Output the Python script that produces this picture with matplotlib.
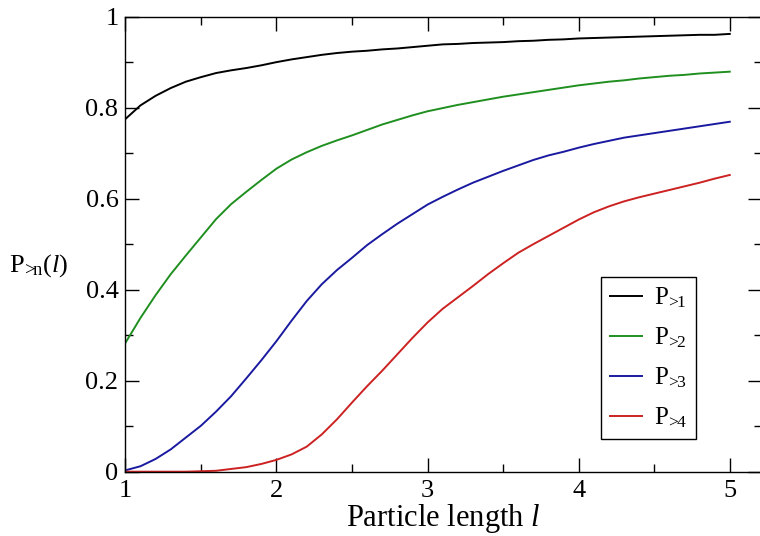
import matplotlib
matplotlib.use("Agg")
import matplotlib.pyplot as plt
from matplotlib.ticker import MultipleLocator

# particle length l
length = [1.0, 1.1, 1.2, 1.3, 1.4, 1.5, 1.6, 1.7, 1.8, 1.9,
          2.0, 2.1, 2.2, 2.3, 2.4, 2.5, 2.6, 2.7, 2.8, 2.9,
          3.0, 3.1, 3.2, 3.3, 3.4, 3.5, 3.6, 3.7, 3.8, 3.9,
          4.0, 4.1, 4.2, 4.3, 4.4, 4.5, 4.6, 4.7, 4.8, 4.9, 5.0]

p_gt1 = [0.775, 0.805, 0.826, 0.843, 0.857, 0.867, 0.876, 0.882, 0.887, 0.893,
         0.900, 0.906, 0.911, 0.916, 0.920, 0.923, 0.925, 0.928, 0.930, 0.933,
         0.936, 0.939, 0.940, 0.942, 0.943, 0.944, 0.946, 0.947, 0.949, 0.950,
         0.952, 0.953, 0.954, 0.955, 0.956, 0.957, 0.958, 0.959, 0.960, 0.960, 0.962]

p_gt2 = [0.283, 0.338, 0.388, 0.434, 0.475, 0.515, 0.555, 0.588, 0.615, 0.641,
         0.666, 0.686, 0.702, 0.716, 0.728, 0.739, 0.751, 0.763, 0.773, 0.783,
         0.792, 0.799, 0.806, 0.812, 0.818, 0.824, 0.829, 0.834, 0.839, 0.844,
         0.849, 0.853, 0.857, 0.860, 0.864, 0.867, 0.870, 0.872, 0.875, 0.877, 0.879]

p_gt3 = [0.003, 0.012, 0.028, 0.049, 0.075, 0.101, 0.132, 0.166, 0.205, 0.245,
         0.287, 0.332, 0.375, 0.412, 0.443, 0.470, 0.498, 0.522, 0.545, 0.566,
         0.587, 0.604, 0.620, 0.635, 0.648, 0.661, 0.673, 0.685, 0.695, 0.703,
         0.712, 0.720, 0.727, 0.734, 0.739, 0.744, 0.749, 0.754, 0.759, 0.764, 0.769]

p_gt4 = [0.000, 0.000, 0.000, 0.000, 0.000, 0.001, 0.002, 0.006, 0.010, 0.017,
         0.026, 0.038, 0.055, 0.082, 0.115, 0.152, 0.188, 0.222, 0.258, 0.294,
         0.328, 0.358, 0.383, 0.408, 0.434, 0.458, 0.481, 0.500, 0.518, 0.536,
         0.554, 0.570, 0.583, 0.594, 0.603, 0.611, 0.619, 0.627, 0.635, 0.644, 0.652]

labels = [r"P$_{\!>\!\!1}$", r"P$_{\!>\!\!2}$", r"P$_{\!>\!\!3}$", r"P$_{\!>\!\!4}$"]
colors = ["#000000", "#1f8f1f", "#1a1aa0", "#cc2222"]

plt.rcParams["font.family"] = ["Liberation Serif", "DejaVu Serif"]
plt.rcParams["mathtext.fontset"] = "custom"
plt.rcParams["mathtext.rm"] = "Liberation Serif"
plt.rcParams["mathtext.it"] = "Liberation Serif:italic"

fig = plt.figure(figsize=(7.6, 5.36), dpi=100)
ax = fig.add_axes([0.165, 0.12, 0.837, 0.849])

for ys, lab, c in zip([p_gt1, p_gt2, p_gt3, p_gt4], labels, colors):
    ax.plot(length, ys, color=c, lw=1.4, label=lab)

ax.set_xlim(1, 5.21)
ax.set_ylim(0, 1)
ax.xaxis.set_major_locator(MultipleLocator(1))
ax.xaxis.set_minor_locator(MultipleLocator(0.5))
ax.yaxis.set_major_locator(MultipleLocator(0.2))
ax.yaxis.set_minor_locator(MultipleLocator(0.1))
ax.yaxis.set_major_formatter(plt.FuncFormatter(lambda v, p: "%g" % round(v, 1)))
ax.tick_params(which="both", direction="in", top=True, right=True, labelsize=19)
ax.tick_params(which="major", length=10, width=1)
ax.tick_params(which="minor", length=6, width=1)
ax.tick_params(axis="x", pad=6)
ax.tick_params(axis="y", pad=5)
for s in ax.spines.values():
    s.set_linewidth(1.0)

ax.set_xlabel(r"Particle length $\mathit{l}$", fontsize=22, labelpad=0)
fig.text(0.012, 0.505, r"P$_{\!>\!\!\mathrm{n}}$($\mathit{l}$)", fontsize=19, ha="left", va="center")

leg = ax.legend(loc="upper left", bbox_to_anchor=(0.791, 0.484), bbox_transform=fig.transFigure,
                fontsize=18, handlelength=1.3, handletextpad=0.45, labelspacing=0.62,
                borderpad=0.35, borderaxespad=0, fancybox=False, framealpha=1)
leg.get_frame().set_edgecolor("black")
leg.get_frame().set_linewidth(1.0)

fig.savefig("out.png", dpi=100)
